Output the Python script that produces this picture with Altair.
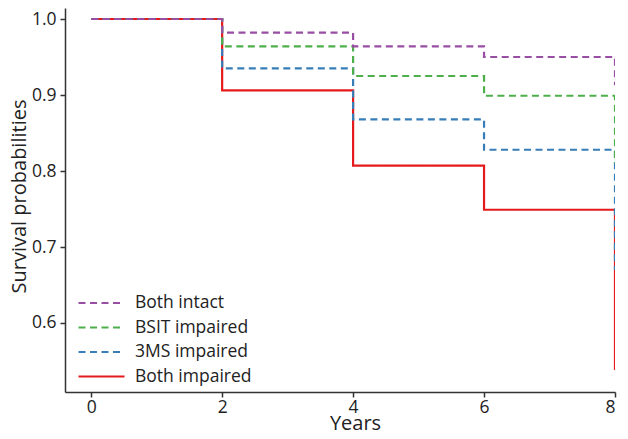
import altair as alt
import pandas as pd

years = [0, 2, 4, 6, 8]
groups = ["Both intact", "BSIT impaired", "3MS impaired", "Both impaired"]
both_intact = [1.0, 0.982, 0.964, 0.950, 0.913]
bsit_impaired = [1.0, 0.964, 0.925, 0.899, 0.810]
ms3_impaired = [1.0, 0.935, 0.868, 0.828, 0.670]
both_impaired = [1.0, 0.906, 0.807, 0.749, 0.538]
colors = ["#984EA3", "#4DAF4A", "#377EB8", "#E41A1C"]
dashes = [[7, 4.5], [7, 4.5], [7, 4.5], [1, 0]]
x_ticks = [0, 2, 4, 6, 8]
y_ticks = [0.6, 0.7, 0.8, 0.9, 1.0]

series = [both_intact, bsit_impaired, ms3_impaired, both_impaired]
rows = []
for g, vals in zip(groups, series):
    for t, v in zip(years, vals):
        rows.append({"group": g, "year": t, "surv": v})
df = pd.DataFrame(rows)

FONT = "Open Sans"
TXT = "#222222"

legend = alt.Legend(
    title=None,
    orient="none",
    legendX=12,
    legendY=285,
    padding=0,
    symbolType="stroke",
    symbolSize=2116,
    symbolStrokeWidth=2.2,
    clipHeight=20,
    rowPadding=4.5,
    labelOffset=9,
    labelFontSize=17.5,
    labelFont=FONT,
    labelColor=TXT,
)

color_enc = alt.Color("group:N", scale=alt.Scale(domain=groups, range=colors), legend=legend)
dash_enc = alt.StrokeDash("group:N", scale=alt.Scale(domain=groups, range=dashes), legend=legend)

x_enc = alt.X(
    "year:Q",
    scale=alt.Scale(domain=[-0.4, 8], nice=False, zero=False),
    axis=alt.Axis(
        title="Years", values=x_ticks, format="d", grid=False,
        tickSize=5, labelPadding=1, titleX=290, titleY=37.5,
        titleBaseline="alphabetic", titleAlign="center",
    ),
)
y_enc = alt.Y(
    "surv:Q",
    scale=alt.Scale(domain=[0.5092, 1.0145], nice=False, zero=False),
    axis=alt.Axis(
        title="Survival probabilities", values=y_ticks, format=".1f", grid=False,
        tickSize=5, labelPadding=4, titleX=-40, titleY=188, titleAngle=270,
        titleBaseline="alphabetic", titleAlign="center",
    ),
)

layers = []
for g in reversed(groups):
    layers.append(
        alt.Chart(df)
        .transform_filter(alt.datum.group == g)
        .mark_line(interpolate="step-after", strokeWidth=2.2, clip=True)
        .encode(x=x_enc, y=y_enc, color=color_enc, strokeDash=dash_enc)
    )

chart = (
    alt.layer(*layers)
    .properties(
        width=550,
        height=384,
        autosize=alt.AutoSizeParams(type="none"),
        padding={"left": 57, "top": 0, "right": 5, "bottom": 39},
    )
    .configure_view(stroke=None)
    .configure_axis(
        labelFont=FONT, titleFont=FONT, labelFontSize=17.5, titleFontSize=20,
        labelColor=TXT, titleColor=TXT, titleFontWeight="normal",
        domainColor="#333333", tickColor="#333333", domainWidth=1.5, tickWidth=1.5,
    )
)

chart.save("out.html", embed_options={"renderer": "svg", "actions": False})
